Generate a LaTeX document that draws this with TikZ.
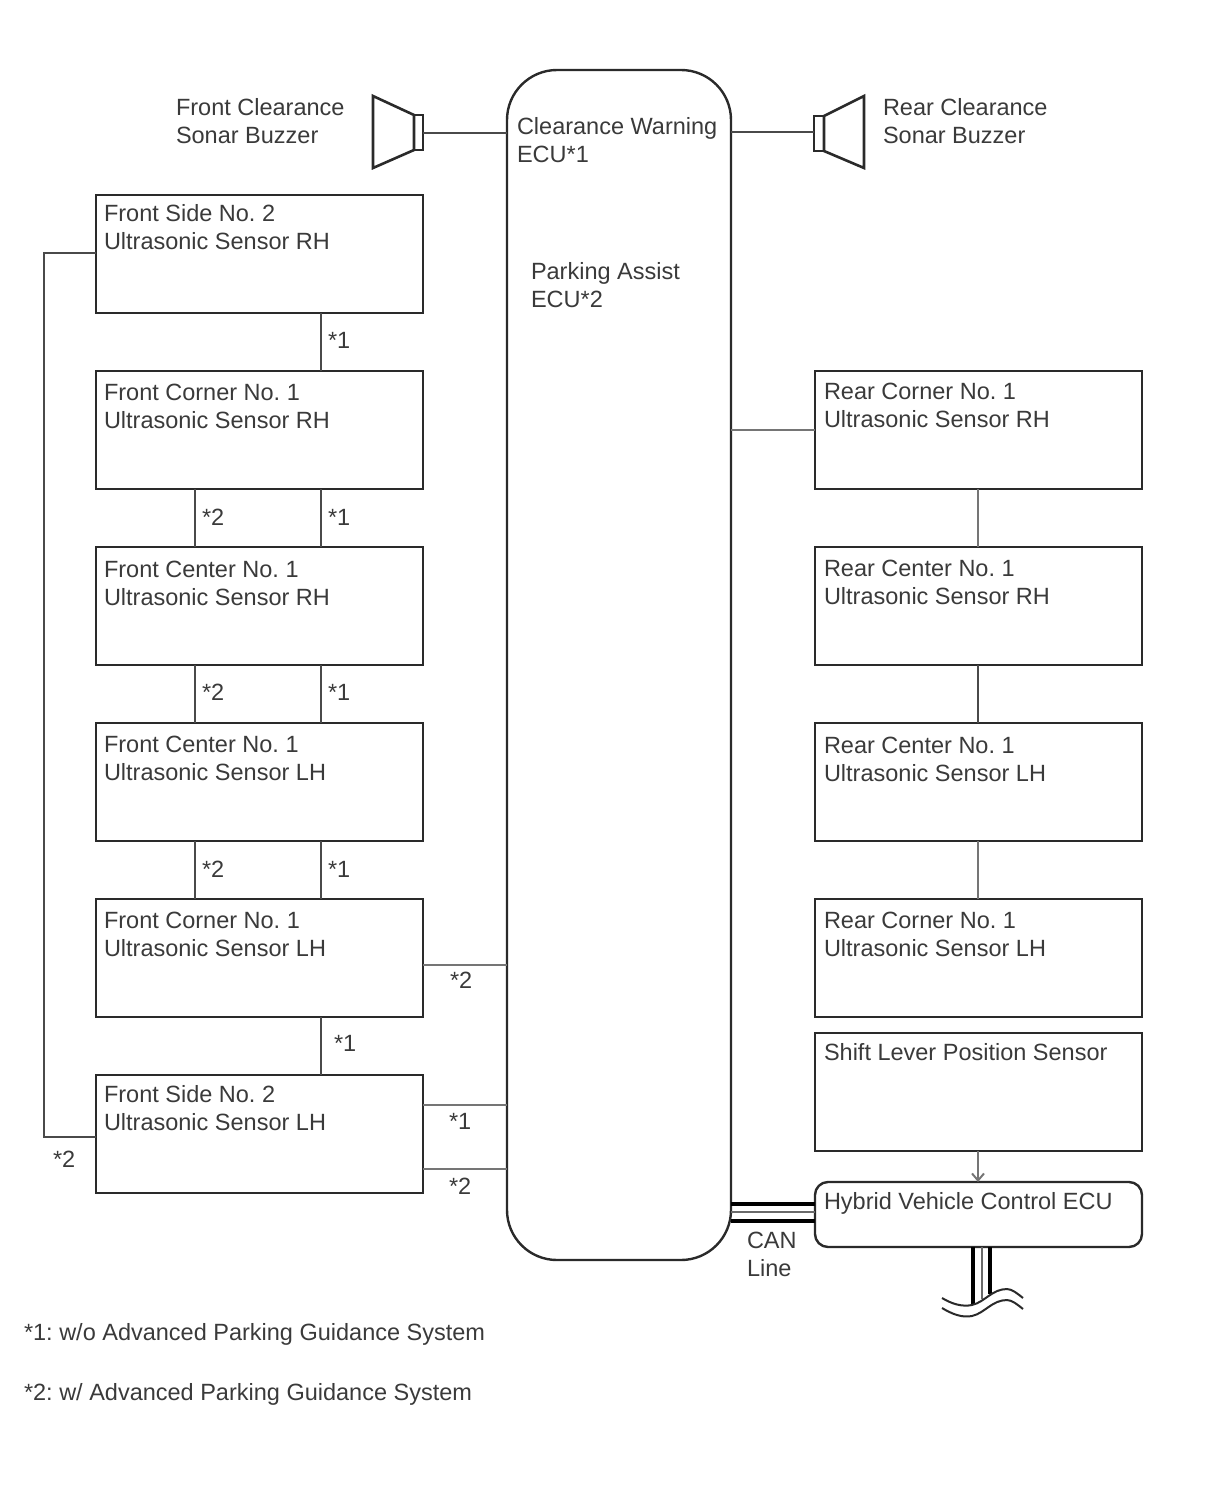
\documentclass[tikz,border=0pt]{standalone}
\usepackage{fontspec}
\setmainfont{Liberation Sans}
\usetikzlibrary{arrows.meta}
\definecolor{ln}{HTML}{2A2A2A}
\definecolor{tx}{HTML}{3A3A3A}
\tikzset{
  sbox/.style={draw=ln,line width=2.4pt,minimum width=327pt,minimum height=118pt,inner sep=0pt,outer sep=0pt,anchor=north west},
  lbl/.style={anchor=base west,inner sep=0pt,outer sep=0pt,text=tx,font=\fontsize{23.5}{28}\selectfont\frenchspacing,align=left},
  wire/.style={draw=ln!85!white,line width=2.2pt},
  thin wire/.style={draw=ln!65!white,line width=2pt},
  spk/.style={draw=ln,line width=2.6pt,line join=miter},
  thick bus/.style={draw=black,line width=3.6pt},
  thin bus/.style={draw=ln!70!white,line width=2.2pt}
}
\begin{document}
\begin{tikzpicture}[x=1pt,y=-1pt]
\useasboundingbox (0,0) rectangle (1210,1498);
% ECU
\node[draw=ln,line width=2.4pt,rounded corners=50pt,minimum width=224pt,minimum height=1190pt,inner sep=0pt,outer sep=0pt,anchor=north west] (ecu) at (507,70) {};
% left boxes
\node[sbox] (fsrh) at (96,195) {};
\node[sbox] (fcorh) at (96,371) {};
\node[sbox] (fcerh) at (96,547) {};
\node[sbox] (fcelh) at (96,723) {};
\node[sbox] (fcolh) at (96,899) {};
\node[sbox] (fslh) at (96,1075) {};
% right boxes
\node[sbox] (rcorh) at (815,371) {};
\node[sbox] (rcerh) at (815,547) {};
\node[sbox] (rcelh) at (815,723) {};
\node[sbox] (rcolh) at (815,899) {};
\node[sbox] (shift) at (815,1033) {};
\node[sbox,minimum height=65pt,rounded corners=13pt] (hv) at (815,1182) {};
% helper coordinates
\coordinate (xa) at (321,0);
\coordinate (xb) at (195,0);
\coordinate (xc) at (978,0);
\coordinate (xl) at (44,0);
\coordinate (y1) at (0,965);
\coordinate (y2) at (0,1105);
\coordinate (y3) at (0,1169);
\coordinate (y4) at (0,430);
\coordinate (y5) at (0,1137);
\coordinate (y6) at (0,253);
% left chain
\draw[wire] (fsrh.south -| xa) -- (fcorh.north -| xa);
\draw[wire] (fcorh.south -| xa) -- (fcerh.north -| xa);
\draw[wire] (fcorh.south -| xb) -- (fcerh.north -| xb);
\draw[wire] (fcerh.south -| xa) -- (fcelh.north -| xa);
\draw[wire] (fcerh.south -| xb) -- (fcelh.north -| xb);
\draw[wire] (fcelh.south -| xa) -- (fcolh.north -| xa);
\draw[wire] (fcelh.south -| xb) -- (fcolh.north -| xb);
\draw[wire] (fcolh.south -| xa) -- (fslh.north -| xa);
\draw[wire] (fsrh.west |- y6) -- (xl |- y6) -- (xl |- y5) -- (fslh.west |- y5);
\draw[thin wire] (fcolh.east |- y1) -- (ecu.west |- y1);
\draw[thin wire] (fslh.east |- y2) -- (ecu.west |- y2);
\draw[thin wire] (fslh.east |- y3) -- (ecu.west |- y3);
% right chain
\draw[thin wire] (ecu.east |- y4) -- (rcorh.west |- y4);
\draw[thin wire] (rcorh.south -| xc) -- (rcerh.north -| xc);
\draw[wire] (rcerh.south -| xc) -- (rcelh.north -| xc);
\draw[thin wire] (rcelh.south -| xc) -- (rcolh.north -| xc);
\draw[thin wire,-{Straight Barb[length=7pt,width=12pt]}] (shift.south -| xc) -- (hv.north -| xc);
% speakers
\coordinate (fsc) at (423,133);
\coordinate (rsc) at (814,132);
\draw[spk] (373,96) -- (373,168) -- (414,150) -- (414,115) -- cycle;
\draw[spk] (414,115) rectangle (423,150);
\draw[spk] (864,96) -- (864,168) -- (824,151) -- (824,116) -- cycle;
\draw[spk] (814,116) rectangle (824,151);
\draw[wire,line width=2.6pt] (fsc) -- (ecu.west |- fsc);
\draw[wire,line width=2.6pt] (ecu.east |- rsc) -- (rsc);
% CAN
\coordinate (c1) at (0,1204);
\coordinate (c2) at (0,1212);
\coordinate (c3) at (0,1221);
\draw[thick bus] (ecu.east |- c1) -- (hv.west |- c1);
\draw[thin bus] (ecu.east |- c2) -- (hv.west |- c2);
\draw[thick bus] (ecu.east |- c3) -- (hv.west |- c3);
% lower bus
\coordinate (b1) at (973,0);
\coordinate (b2) at (982,0);
\coordinate (b3) at (990,0);
\draw[thick bus] (hv.south -| b1) -- (973,1304);
\draw[thin bus] (hv.south -| b2) -- (982,1299);
\draw[thick bus] (hv.south -| b3) -- (990,1294);
\draw[ln,line width=2pt] (942,1298) .. controls (952,1304) and (962,1307) .. (972,1305) .. controls (985,1302) and (992,1289) .. (1007,1289) .. controls (1012,1289) and (1018,1294) .. (1023,1298);
\draw[ln,line width=2pt] (942,1308) .. controls (952,1314) and (962,1318) .. (972,1316) .. controls (985,1313) and (992,1300) .. (1007,1300) .. controls (1012,1300) and (1018,1305) .. (1023,1309);
% labels in boxes
\node[lbl] (t1) at (104,249) {Front Side No. 2\\Ultrasonic Sensor RH};
\node[lbl] (t2) at (104,428) {Front Corner No. 1\\Ultrasonic Sensor RH};
\node[lbl] (t3) at (104,605) {Front Center No. 1\\Ultrasonic Sensor RH};
\node[lbl] (t4) at (104,780) {Front Center No. 1\\Ultrasonic Sensor LH};
\node[lbl] (t5) at (104,956) {Front Corner No. 1\\Ultrasonic Sensor LH};
\node[lbl] (t6) at (104,1130) {Front Side No. 2\\Ultrasonic Sensor LH};
\node[lbl] (t7) at (824,427) {Rear Corner No. 1\\Ultrasonic Sensor RH};
\node[lbl] (t8) at (824,604) {Rear Center No. 1\\Ultrasonic Sensor RH};
\node[lbl] (t9) at (824,781) {Rear Center No. 1\\Ultrasonic Sensor LH};
\node[lbl] (t10) at (824,956) {Rear Corner No. 1\\Ultrasonic Sensor LH};
\node[lbl] (t11) at (824,1060) {Shift Lever Position Sensor};
\node[lbl] (t12) at (824,1209) {Hybrid Vehicle Control ECU};
\node[lbl] (t13) at (176,144) {Front Clearance\\Sonar Buzzer};
\node[lbl] (t14) at (883,144) {Rear Clearance\\Sonar Buzzer};
\node[lbl] (t15) at (517,163) {Clearance Warning\\ECU*1};
\node[lbl] (t16) at (531,307) {Parking Assist\\ECU*2};
\node[lbl] (t17) at (747,1276) {CAN\\Line};
\node[lbl] (n1) at (24,1340) {*1: w/o Advanced Parking Guidance System};
\node[lbl] (n2) at (24,1400) {*2: w/ Advanced Parking Guidance System};
% star labels
\node[lbl] (s1) at (328,348) {*1};
\node[lbl] (s2) at (328,525) {*1};
\node[lbl] (s3) at (202,525) {*2};
\node[lbl] (s4) at (328,700) {*1};
\node[lbl] (s5) at (202,700) {*2};
\node[lbl] (s6) at (328,877) {*1};
\node[lbl] (s7) at (202,877) {*2};
\node[lbl] (s8) at (450,988) {*2};
\node[lbl] (s9) at (334,1051) {*1};
\node[lbl] (s10) at (449,1129) {*1};
\node[lbl] (s11) at (449,1194) {*2};
\node[lbl] (s12) at (53,1167) {*2};
\end{tikzpicture}
\end{document}
